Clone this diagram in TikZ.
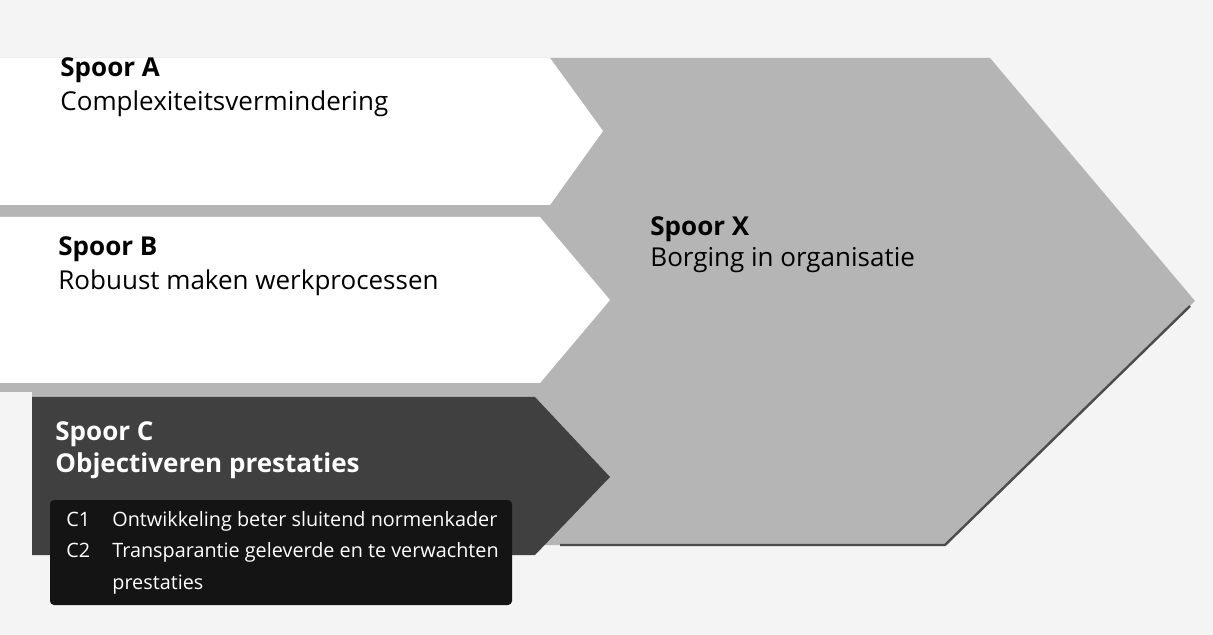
\documentclass[tikz,border=0pt]{standalone}
\usepackage{fontspec}
\setmainfont{Open Sans}
\tikzset{
  kop/.style={anchor=base west, inner sep=0pt, font=\fontsize{13}{15}\selectfont\bfseries},
  tekst/.style={anchor=base west, inner sep=0pt, font=\fontsize{13}{15}\selectfont},
  punt/.style={anchor=base west, inner sep=0pt, text=white, font=\fontsize{9.9}{13}\selectfont}
}
\begin{document}
\begin{tikzpicture}[x=0.5pt, y=-0.5pt]
        \useasboundingbox (0,0) rectangle (1213,635);
        \fill[gray!9] (0,0) rectangle (1213,635);

        % Spoor X: big chevron behind the three tracks
        \fill[gray!58] (0,58) -- (990,58) -- (1195,301) -- (945,545) -- (32,545) -- (32,392) -- (0,392) -- cycle;
        \draw[gray!60!black, line width=1.2pt] (560,545) -- (945,545) -- (1190,306);

        % Spoor A and B: white arrows
        \fill[white] (0,58) -- (550,58) -- (603,131) -- (550,205) -- (0,205) -- cycle;
        \fill[white] (0,217) -- (540,217) -- (610,300) -- (540,383) -- (0,383) -- cycle;

        % Spoor C: dark arrow with the list box
        \fill[black!75] (32,397) -- (535,397) -- (610,477) -- (535,555) -- (32,555) -- cycle;
        \fill[black!92, rounded corners=2pt] (50,500) rectangle (512,605);

        % labels
        \node[kop] (kopA) at (60,77) {Spoor A};
        \node[tekst] (tekstA) at (60,111) {Complexiteitsvermindering};
        \node[kop] (kopB) at (58,256) {Spoor B};
        \node[tekst] (tekstB) at (58,290) {Robuust maken werkprocessen};
        \node[kop] (kopX) at (650,236) {Spoor X};
        \node[tekst] (tekstX) at (650,267) {Borging in organisatie};
        \node[kop, text=white] (kopC) at (55,440) {Spoor C};
        \node[kop, text=white] (tekstC) at (55,472) {Objectiveren prestaties};

        % list in the dark box
        \node[punt] (c1) at (66,526) {C1};
        \node[punt] (c1t) at (112,526) {Ontwikkeling beter sluitend normenkader};
        \node[punt] (c2) at (66,557) {C2};
        \node[punt] (c2t) at (112,557) {Transparantie geleverde en te verwachten};
        \node[punt] (c2u) at (112,589) {prestaties};
\end{tikzpicture}
\end{document}
